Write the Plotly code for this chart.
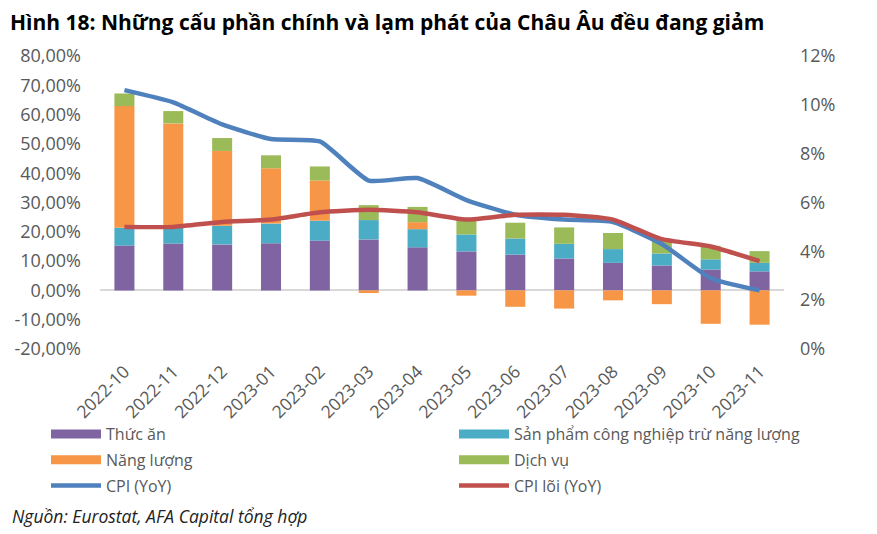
import plotly.graph_objects as go

months = ["2022-10", "2022-11", "2022-12", "2023-01", "2023-02", "2023-03", "2023-04",
          "2023-05", "2023-06", "2023-07", "2023-08", "2023-09", "2023-10", "2023-11"]

food = [15.3, 16.0, 15.7, 16.1, 17.0, 17.4, 14.7, 13.3, 12.2, 10.9, 9.4, 8.5, 7.1, 6.5]
industrial = [6.1, 6.1, 6.4, 6.7, 6.8, 6.6, 6.2, 5.8, 5.5, 5.0, 4.7, 4.1, 3.5, 2.9]
energy = [41.5, 34.9, 25.5, 18.9, 13.7, -0.9, 2.4, -1.8, -5.6, -6.2, -3.4, -4.7, -11.4, -11.7]
services = [4.3, 4.2, 4.4, 4.4, 4.8, 5.1, 5.2, 5.0, 5.4, 5.6, 5.5, 4.7, 4.6, 4.0]

cpi = [10.6, 10.1, 9.2, 8.6, 8.5, 6.9, 7.0, 6.1, 5.5, 5.3, 5.2, 4.3, 2.9, 2.4]
core = [5.0, 5.0, 5.2, 5.3, 5.6, 5.7, 5.6, 5.3, 5.5, 5.5, 5.3, 4.5, 4.2, 3.6]

left_ticks = [-20, -10, 0, 10, 20, 30, 40, 50, 60, 70, 80]
right_ticks = [0, 2, 4, 6, 8, 10, 12]

bar_series = [
    ("Thức ăn", food, "#8064A2", "legend"),
    ("Sản phẩm công nghiệp trừ năng lượng", industrial, "#4BACC6", "legend2"),
    ("Năng lượng", energy, "#F79646", "legend"),
    ("Dịch vụ", services, "#9BBB59", "legend2"),
]

FONT = "Open Sans"
GRAY = "#595959"

# page body adds an 8px offset, so the figure is drawn 8px smaller
W, H = 869, 526
L, R, T, B = 92, 93, 48, 185
PW, PH = W - L - R, H - T - B
PB = H - B  # plot bottom in figure px


def px_x(x):
    return (x - L) / PW


def px_y(y):
    return (PB - y) / PH


fig = go.Figure()
for name, vals, col, lg in bar_series:
    fig.add_trace(go.Bar(x=months, y=vals, name=name, marker=dict(color=col, line=dict(width=0)),
                         showlegend=False, yaxis="y"))
for name, vals, col, lg in bar_series:
    fig.add_trace(go.Scatter(x=[None], y=[None], name=name, mode="lines", legend=lg,
                             legendgroup=name,
                             line=dict(color=col, width=9), yaxis="y", hoverinfo="skip"))

fig.add_trace(go.Scatter(x=months, y=cpi, name="CPI (YoY)", mode="lines", yaxis="y2",
                         legend="legend", legendgroup="cpi",
                         line=dict(color="#4F81BD", width=4.5, shape="spline", smoothing=0.5)))
fig.add_trace(go.Scatter(x=months, y=core, name="CPI lõi (YoY)", mode="lines", yaxis="y2",
                         legend="legend2", legendgroup="core",
                         line=dict(color="#C0504D", width=4.5, shape="spline", smoothing=0.5)))

legend_common = dict(orientation="v", yanchor="top", xanchor="left", itemwidth=50,
                     tracegroupgap=2, font=dict(size=16, color=GRAY),
                     bgcolor="rgba(0,0,0,0)", borderwidth=0)

fig.update_layout(
    width=W, height=H,
    margin=dict(l=L, r=R, t=T, b=B, autoexpand=False),
    paper_bgcolor="white", plot_bgcolor="white",
    barmode="relative", bargap=0.59,
    font=dict(family=FONT, color=GRAY, size=15),
    title=dict(text="<b>Hình 18: Những cấu phần chính và lạm phát của Châu Âu đều đang giảm</b>",
               xref="container", x=2 / W, xanchor="left",
               yref="container", y=1 - 15 / H, yanchor="middle",
               font=dict(family=FONT, size=21, color="black")),
    xaxis=dict(type="category", tickangle=-45, showgrid=False, showline=False, ticks="",
               automargin=False, ticklabelstandoff=8,
               tickfont=dict(size=17.5, color=GRAY)),
    yaxis=dict(range=[-20, 80], tickvals=left_ticks,
               ticktext=[f"{v},00%" for v in left_ticks],
               showgrid=False, zeroline=True, zerolinecolor="#D9D9D9", zerolinewidth=1.5,
               showline=False, ticks="", automargin=False, ticklabelstandoff=18,
               tickfont=dict(size=18, color=GRAY)),
    yaxis2=dict(range=[0, 12], tickvals=right_ticks, ticktext=[f"{v}%" for v in right_ticks],
                overlaying="y", side="right", showgrid=False, zeroline=False, showline=False,
                ticks="", automargin=False, ticklabelstandoff=15,
                tickfont=dict(size=18, color=GRAY)),
    legend=dict(x=px_x(38), y=px_y(409), **legend_common),
    legend2=dict(x=px_x(446), y=px_y(409), **legend_common),
    annotations=[dict(text="<i>Nguồn: Eurostat, AFA Capital tổng hợp</i>",
                      xref="paper", yref="paper", x=px_x(2), y=px_y(508),
                      xanchor="left", yanchor="middle", showarrow=False,
                      font=dict(family=FONT, size=17.5, color="#222222"))],
)

fig.write_html("out.html")
